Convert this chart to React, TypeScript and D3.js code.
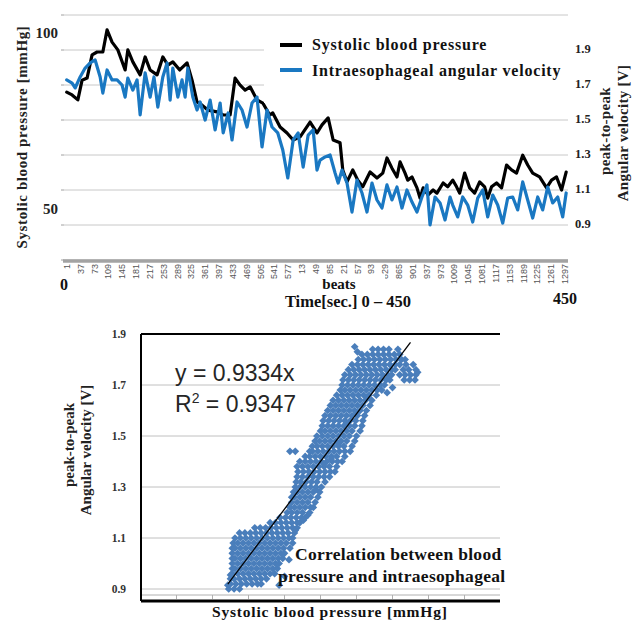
import React from 'react';
import * as d3 from 'd3';

// ---------- Top chart data ----------
const xTickLabels = [1, 37, 73, 109, 145, 181, 217, 253, 289, 325, 361, 397, 433, 469, 505, 541, 577, 613, 649, 685, 721, 757, 793, 829, 865, 901, 937, 973, 1009, 1045, 1081, 1117, 1153, 1189, 1225, 1261, 1297];
const leftTicks = [50, 100];
const rightTicks = [0.9, 1.1, 1.3, 1.5, 1.7, 1.9];
const gridValues = [0.7, 0.9, 1.1, 1.3, 1.5, 1.7, 1.9, 2.1];

const sbpBeats = [1, 15, 30, 41, 54, 67, 80, 95, 106, 119, 134, 153, 160, 173, 192, 205, 218, 236, 251, 264, 277, 295, 314, 327, 340, 353, 368, 392, 408, 426, 439, 452, 465, 478, 496, 511, 529, 537, 556, 574, 590, 608, 634, 652, 665, 681, 694, 712, 719, 730, 745, 758, 771, 790, 808, 823, 834, 847, 860, 868, 881, 888, 899, 912, 920, 928, 941, 954, 964, 980, 992, 1005, 1015, 1023, 1036, 1049, 1062, 1075, 1088, 1096, 1106, 1119, 1132, 1145, 1158, 1171, 1187, 1200, 1213, 1231, 1249, 1262, 1275, 1288, 1300];
const sbpValues = [83.2, 82.4, 81.0, 86.6, 87.2, 93.8, 94.6, 94.6, 100.9, 97.4, 95.2, 89.5, 95.2, 91.8, 88.1, 93.2, 89.5, 88.1, 93.2, 90.9, 91.8, 89.5, 91.5, 86.6, 80.4, 79.5, 78.1, 77.6, 76.7, 76.7, 87.2, 85.2, 83.8, 84.7, 81.0, 80.1, 76.7, 77.3, 73.3, 71.6, 69.6, 70.5, 74.7, 71.6, 73.9, 75.9, 69.6, 68.8, 61.1, 57.7, 61.1, 58.2, 56.3, 60.5, 58.8, 60.2, 64.5, 61.6, 59.1, 63.4, 60.2, 58.2, 59.1, 56.0, 53.1, 56.0, 54.0, 55.4, 54.5, 57.4, 56.3, 58.2, 56.3, 54.5, 60.2, 56.0, 54.5, 57.7, 56.3, 53.1, 56.3, 57.4, 56.0, 62.5, 61.1, 60.2, 65.3, 62.5, 60.2, 59.1, 56.0, 58.2, 59.1, 55.4, 60.5];

const velBeats = [1, 15, 23, 36, 49, 62, 75, 88, 95, 106, 119, 132, 145, 153, 160, 173, 184, 192, 205, 218, 228, 238, 251, 262, 270, 277, 290, 301, 309, 316, 329, 340, 348, 361, 374, 387, 400, 408, 421, 431, 444, 457, 470, 483, 496, 509, 522, 535, 550, 563, 576, 590, 603, 616, 629, 642, 652, 660, 673, 686, 699, 707, 717, 730, 743, 756, 769, 782, 795, 808, 821, 834, 847, 860, 873, 886, 899, 912, 925, 938, 946, 959, 972, 985, 998, 1005, 1018, 1031, 1044, 1057, 1070, 1083, 1096, 1109, 1122, 1135, 1148, 1161, 1174, 1187, 1200, 1213, 1226, 1239, 1252, 1265, 1278, 1291, 1300];
const velValues = [1.729, 1.711, 1.683, 1.746, 1.797, 1.826, 1.843, 1.746, 1.654, 1.786, 1.729, 1.729, 1.700, 1.631, 1.740, 1.671, 1.729, 1.529, 1.769, 1.631, 1.746, 1.574, 1.746, 1.826, 1.614, 1.797, 1.631, 1.729, 1.631, 1.797, 1.631, 1.557, 1.603, 1.500, 1.614, 1.443, 1.597, 1.426, 1.540, 1.386, 1.603, 1.557, 1.460, 1.597, 1.631, 1.346, 1.557, 1.460, 1.426, 1.329, 1.169, 1.386, 1.426, 1.231, 1.414, 1.443, 1.214, 1.271, 1.289, 1.300, 1.197, 1.140, 1.214, 1.140, 0.974, 1.157, 1.083, 0.974, 1.140, 1.043, 0.997, 1.129, 1.043, 1.117, 0.997, 1.100, 1.031, 0.974, 1.060, 1.129, 0.900, 1.060, 1.026, 0.929, 1.060, 1.014, 0.946, 1.060, 1.014, 0.917, 1.054, 1.100, 0.946, 1.071, 1.014, 0.911, 1.054, 1.060, 0.986, 1.146, 1.043, 0.940, 1.060, 0.986, 1.117, 1.026, 1.060, 0.946, 1.083];

// ---------- Bottom chart data ----------
const botYTicks = [0.9, 1.1, 1.3, 1.5, 1.7, 1.9];
const botXTicks = [0.7, 0.9, 1.1, 1.3, 1.5, 1.7, 1.9, 2.1, 2.3];
const trendSlope = 0.9334;
const trendRange = [0.985, 2.0];

const scatterV = [0.90, 0.92, 0.94, 0.96, 0.98, 1.00, 1.02, 1.04, 1.06, 1.08, 1.10, 1.12, 1.14, 1.16, 1.18, 1.20, 1.22, 1.24, 1.26, 1.28, 1.30, 1.32, 1.34, 1.36, 1.38, 1.40, 1.42, 1.44, 1.46, 1.48, 1.50, 1.52, 1.54, 1.56, 1.58, 1.60, 1.62, 1.64, 1.66, 1.68, 1.70, 1.72, 1.74, 1.76, 1.78, 1.80, 1.82, 1.84];
const scatterU = [
  [0.99, 1.02, 1.05],
  [1.00, 1.03, 1.06, 1.09, 1.12, 1.15, 1.17],
  [1.00, 1.02, 1.05, 1.08, 1.11, 1.14, 1.17, 1.20],
  [1.01, 1.04, 1.07, 1.10, 1.13, 1.16, 1.19, 1.22, 1.245],
  [1.01, 1.025, 1.055, 1.085, 1.115, 1.145, 1.175, 1.205, 1.235, 1.26],
  [1.01, 1.04, 1.07, 1.10, 1.13, 1.16, 1.19, 1.22, 1.25, 1.27],
  [1.01, 1.025, 1.055, 1.085, 1.115, 1.145, 1.175, 1.205, 1.235, 1.265, 1.29],
  [1.01, 1.04, 1.07, 1.10, 1.13, 1.16, 1.19, 1.22, 1.25, 1.28, 1.30],
  [1.01, 1.025, 1.055, 1.085, 1.115, 1.145, 1.175, 1.205, 1.235, 1.265, 1.295, 1.33],
  [1.015, 1.04, 1.07, 1.10, 1.13, 1.16, 1.19, 1.22, 1.25, 1.28, 1.31, 1.345],
  [1.025, 1.055, 1.085, 1.115, 1.145, 1.175, 1.205, 1.235, 1.265, 1.295, 1.325, 1.345],
  [1.05, 1.08, 1.11, 1.14, 1.17, 1.20, 1.23, 1.26, 1.29, 1.32, 1.355],
  [1.135, 1.165, 1.195, 1.225, 1.255, 1.285, 1.315, 1.345, 1.37],
  [1.22, 1.25, 1.28, 1.31, 1.34, 1.37, 1.385],
  [1.275, 1.305, 1.335, 1.365, 1.395, 1.415],
  [1.315, 1.34, 1.37, 1.40, 1.44],
  [1.33, 1.355, 1.385, 1.415, 1.445, 1.46],
  [1.34, 1.37, 1.40, 1.43, 1.47],
  [1.34, 1.355, 1.385, 1.415, 1.445, 1.485],
  [1.35, 1.37, 1.40, 1.43, 1.46, 1.495],
  [1.36, 1.385, 1.415, 1.445, 1.475, 1.505],
  [1.365, 1.39, 1.42, 1.45, 1.48, 1.525],
  [1.37, 1.40, 1.43, 1.46, 1.49, 1.52, 1.55],
  [1.375, 1.405, 1.435, 1.465, 1.495, 1.525, 1.555, 1.58],
  [1.37, 1.40, 1.43, 1.46, 1.49, 1.52, 1.55, 1.59],
  [1.385, 1.415, 1.445, 1.475, 1.505, 1.535, 1.565, 1.595, 1.62],
  [1.415, 1.44, 1.47, 1.50, 1.53, 1.56, 1.59, 1.635],
  [1.33, 1.36, 1.44, 1.455, 1.485, 1.515, 1.545, 1.575, 1.605, 1.635, 1.665],
  [1.455, 1.48, 1.51, 1.54, 1.57, 1.60, 1.63, 1.675],
  [1.47, 1.495, 1.525, 1.555, 1.585, 1.615, 1.645, 1.69],
  [1.48, 1.51, 1.54, 1.57, 1.60, 1.63, 1.66, 1.70],
  [1.50, 1.525, 1.555, 1.585, 1.615, 1.645, 1.675, 1.72],
  [1.51, 1.54, 1.57, 1.60, 1.63, 1.66, 1.69, 1.73],
  [1.515, 1.545, 1.575, 1.605, 1.635, 1.665, 1.695, 1.735],
  [1.525, 1.555, 1.585, 1.615, 1.645, 1.675, 1.705, 1.745],
  [1.54, 1.57, 1.60, 1.63, 1.66, 1.69, 1.72, 1.755],
  [1.555, 1.585, 1.615, 1.645, 1.675, 1.705, 1.735, 1.775],
  [1.57, 1.60, 1.63, 1.66, 1.69, 1.72, 1.75, 1.785],
  [1.59, 1.62, 1.65, 1.68, 1.71, 1.74, 1.77, 1.81],
  [1.61, 1.635, 1.665, 1.695, 1.725, 1.755, 1.785, 1.815, 1.84],
  [1.62, 1.65, 1.68, 1.71, 1.74, 1.77, 1.80, 1.83, 1.855],
  [1.625, 1.655, 1.685, 1.715, 1.745, 1.775, 1.805, 1.835, 1.865, 1.885, 1.965, 1.995, 2.025],
  [1.635, 1.665, 1.695, 1.725, 1.755, 1.785, 1.815, 1.845, 1.875, 1.895, 1.94, 1.97, 2.00, 2.03],
  [1.655, 1.685, 1.715, 1.745, 1.775, 1.805, 1.835, 1.865, 1.895, 1.915, 1.96, 1.99, 2.03],
  [1.675, 1.705, 1.735, 1.765, 1.795, 1.825, 1.855, 1.885, 1.915, 1.94, 1.975, 2.015],
  [1.71, 1.74, 1.77, 1.80, 1.83, 1.86, 1.89, 1.92, 1.95, 1.97],
  [1.73, 1.76, 1.79, 1.82, 1.85, 1.88, 1.91, 1.94],
  [1.79, 1.82, 1.85, 1.88, 1.93],
];
// scattered stray points around the main cloud (u, v)
const strayU = [0.985, 1.0, 1.27, 1.3, 1.325, 1.36, 1.405, 1.43, 1.475, 1.52, 1.56, 1.6, 1.65, 1.7, 1.76, 1.87, 1.9, 2.04, 1.705, 1.69];
const strayV = [0.915, 0.955, 0.915, 0.95, 1.015, 1.13, 1.17, 1.19, 1.29, 1.39, 1.41, 1.47, 1.55, 1.59, 1.65, 1.67, 1.69, 1.75, 1.83, 1.85];

const SERIF = "'Liberation Serif', 'Times New Roman', serif";
const SANS = "'Liberation Sans', Arial, sans-serif";
const BLUE = '#1a78c2';
const DOT = '#4a7ebb';

export default function App() {
  // top scales
  const xTop = d3.scaleLinear().domain([1, 1297]).range([66.7, 565]);
  const yLeft = d3.scaleLinear().domain([50, 100]).range([209, 33]);
  const yRight = d3.scaleLinear().domain([0.7, 2.1]).range([260, 15]);

  const sbpPath = d3.line<number>()
    .x((_, i) => xTop(sbpBeats[i]))
    .y((d) => yLeft(d))(sbpValues) || '';
  const velPath = d3.line<number>()
    .x((_, i) => xTop(velBeats[i]))
    .y((d) => yRight(d))(velValues) || '';

  // bottom scales
  const xBot = d3.scaleLinear().domain([0.5, 2.5]).range([140.5, 500.5]);
  const yBot = d3.scaleLinear().domain([0.9, 1.9]).range([589, 334]);
  const diamond = d3.symbol(d3.symbolSquare, 30)() || '';

  const points: { u: number; v: number }[] = [];
  scatterV.forEach((v, i) => scatterU[i].forEach((u) => points.push({ u, v })));
  strayU.forEach((u, i) => points.push({ u, v: strayV[i] }));

  const plotL = 64, plotR = 568;
  const botL = 141, botR = 500, botT = 334, botB = 601;

  return (
    <svg width={640} height={621} style={{ position: 'absolute', left: 0, top: 0, background: '#fff' }}>
      <rect x={0} y={0} width={640} height={621} fill="#fff" />
      {/* ===== TOP CHART ===== */}
      {gridValues.map((g) => (
        <line key={'g' + g} x1={plotL} x2={plotR} y1={yRight(g)} y2={yRight(g)} stroke="#c8c8c8" strokeWidth={1} />
      ))}
      {gridValues.map((g) => (
        <line key={'tk' + g} x1={plotL - 3} x2={plotL} y1={yRight(g)} y2={yRight(g)} stroke="#a0a0a0" strokeWidth={1} />
      ))}
      <line x1={plotL - 1} x2={plotR} y1={261} y2={261} stroke="#a3a3a3" strokeWidth={3.5} />

      <path d={sbpPath} fill="none" stroke="#000" strokeWidth={3.2} strokeLinejoin="round" strokeLinecap="round" />
      <path d={velPath} fill="none" stroke={BLUE} strokeWidth={3.2} strokeLinejoin="round" strokeLinecap="round" />

      {/* legend */}
      <rect x={264} y={21} width={plotR - 264} height={82} fill="#fff" />
      <line x1={280} x2={302} y1={45} y2={45} stroke="#000" strokeWidth={4} />
      <text x={312} y={49.5} fontFamily={SERIF} fontWeight="bold" fontSize={16} fill="#111" letterSpacing={0.8}>Systolic blood pressure</text>
      <line x1={280} x2={302} y1={70} y2={70} stroke={BLUE} strokeWidth={4} />
      <text x={312} y={75.5} fontFamily={SERIF} fontWeight="bold" fontSize={16} fill="#111" letterSpacing={0.8}>Intraesophageal angular velocity</text>

      {/* left axis */}
      {leftTicks.map((t) => (
        <text key={'l' + t} x={58} y={yLeft(t)} dy="0.35em" textAnchor="end" fontFamily={SERIF} fontWeight="bold" fontSize={15} fill="#222">{t}</text>
      ))}
      <text transform={`translate(27,137) rotate(-90)`} textAnchor="middle" fontFamily={SERIF} fontWeight="bold" fontSize={15} fill="#222" letterSpacing={0.6}>Systolic blood pressure [mmHg]</text>

      {/* right axis */}
      {rightTicks.map((t) => (
        <text key={'r' + t} x={575} y={yRight(t) - 1.5} dy="0.35em" fontFamily={SERIF} fontWeight="bold" fontSize={12.5} fill="#222">{t.toFixed(1)}</text>
      ))}
      <text transform={`translate(610,131) rotate(-90)`} textAnchor="middle" fontFamily={SERIF} fontWeight="bold" fontSize={15} fill="#222" letterSpacing={0.3}>peak-to-peak</text>
      <text transform={`translate(628,133) rotate(-90)`} textAnchor="middle" fontFamily={SERIF} fontWeight="bold" fontSize={15} fill="#222" letterSpacing={0.3}>Angular velocity [V]</text>

      {/* x tick labels */}
      {xTickLabels.map((t) => (
        <text key={'x' + t} transform={`translate(${xTop(t)},264) rotate(-90)`} dy="0.35em" textAnchor="end" fontFamily={SANS} fontSize={9} fill="#555">{t}</text>
      ))}
      <rect x={297} y={274} width={88} height={20} fill="#fff" />
      <text x={339} y={288.5} textAnchor="middle" fontFamily={SERIF} fontWeight="bold" fontSize={15} fill="#111">beats</text>
      <text x={348} y={307} textAnchor="middle" fontFamily={SERIF} fontWeight="bold" fontSize={16.5} fill="#111">Time[sec.] 0 – 450</text>
      <text x={64} y={290} textAnchor="middle" fontFamily={SERIF} fontWeight="bold" fontSize={16} fill="#111">0</text>
      <text x={565} y={304} textAnchor="middle" fontFamily={SERIF} fontWeight="bold" fontSize={16} fill="#111">450</text>

      {/* ===== BOTTOM CHART ===== */}
      {botYTicks.slice(0, 5).map((t) => (
        <line key={'bg' + t} x1={botL} x2={botR} y1={yBot(t)} y2={yBot(t)} stroke="#c0c0c0" strokeWidth={1} />
      ))}
      <line x1={botL} x2={botR} y1={595} y2={595} stroke="#b0b0b0" strokeWidth={1} />
      {botXTicks.map((t) => (
        <line key={'bx' + t} x1={xBot(t)} x2={xBot(t)} y1={595} y2={599} stroke="#b0b0b0" strokeWidth={1} />
      ))}

      {points.map((p, i) => (
        <path key={'p' + i} d={diamond} transform={`translate(${xBot(p.u)},${yBot(p.v)}) rotate(45)`} fill={DOT} />
      ))}
      <line x1={xBot(trendRange[0])} y1={yBot(trendSlope * trendRange[0])} x2={xBot(trendRange[1])} y2={yBot(trendSlope * trendRange[1])} stroke="#000" strokeWidth={1.3} />

      <line x1={botL} x2={botR} y1={botT} y2={botT} stroke="#000" strokeWidth={2} />
      <line x1={botL} x2={botL} y1={botT} y2={botB} stroke="#000" strokeWidth={2} />
      <line x1={botL} x2={botR} y1={botB} y2={botB} stroke="#000" strokeWidth={3} />

      {botYTicks.map((t) => (
        <text key={'by' + t} x={126} y={yBot(t)} dy="0.35em" textAnchor="end" fontFamily={SERIF} fontWeight="bold" fontSize={11.5} fill="#333">{t.toFixed(1)}</text>
      ))}

      <text x={175} y={381} fontFamily={SANS} fontSize={23} fill="#262626">y = 0.9334x</text>
      <text x={175} y={412} fontFamily={SANS} fontSize={23} fill="#262626">R<tspan dy={-9} fontSize={14}>2</tspan><tspan dy={9}> = 0.9347</tspan></text>

      <text x={295} y={560} fontFamily={SERIF} fontWeight="bold" fontSize={17.5} fill="#111" letterSpacing={0.3}>Correlation between blood</text>
      <text x={278} y={582} fontFamily={SERIF} fontWeight="bold" fontSize={17.5} fill="#111" letterSpacing={0.3}>pressure and intraesophageal</text>

      <text transform={`translate(74,445) rotate(-90)`} textAnchor="middle" fontFamily={SERIF} fontWeight="bold" fontSize={15} fill="#222">peak-to-peak</text>
      <text transform={`translate(91,450) rotate(-90)`} textAnchor="middle" fontFamily={SERIF} fontWeight="bold" fontSize={15} fill="#222">Angular velocity [V]</text>
      <text x={212} y={617} fontFamily={SERIF} fontWeight="bold" fontSize={15.5} fill="#111" letterSpacing={0.8}>Systolic blood pressure [mmHg]</text>
    </svg>
  );
}
